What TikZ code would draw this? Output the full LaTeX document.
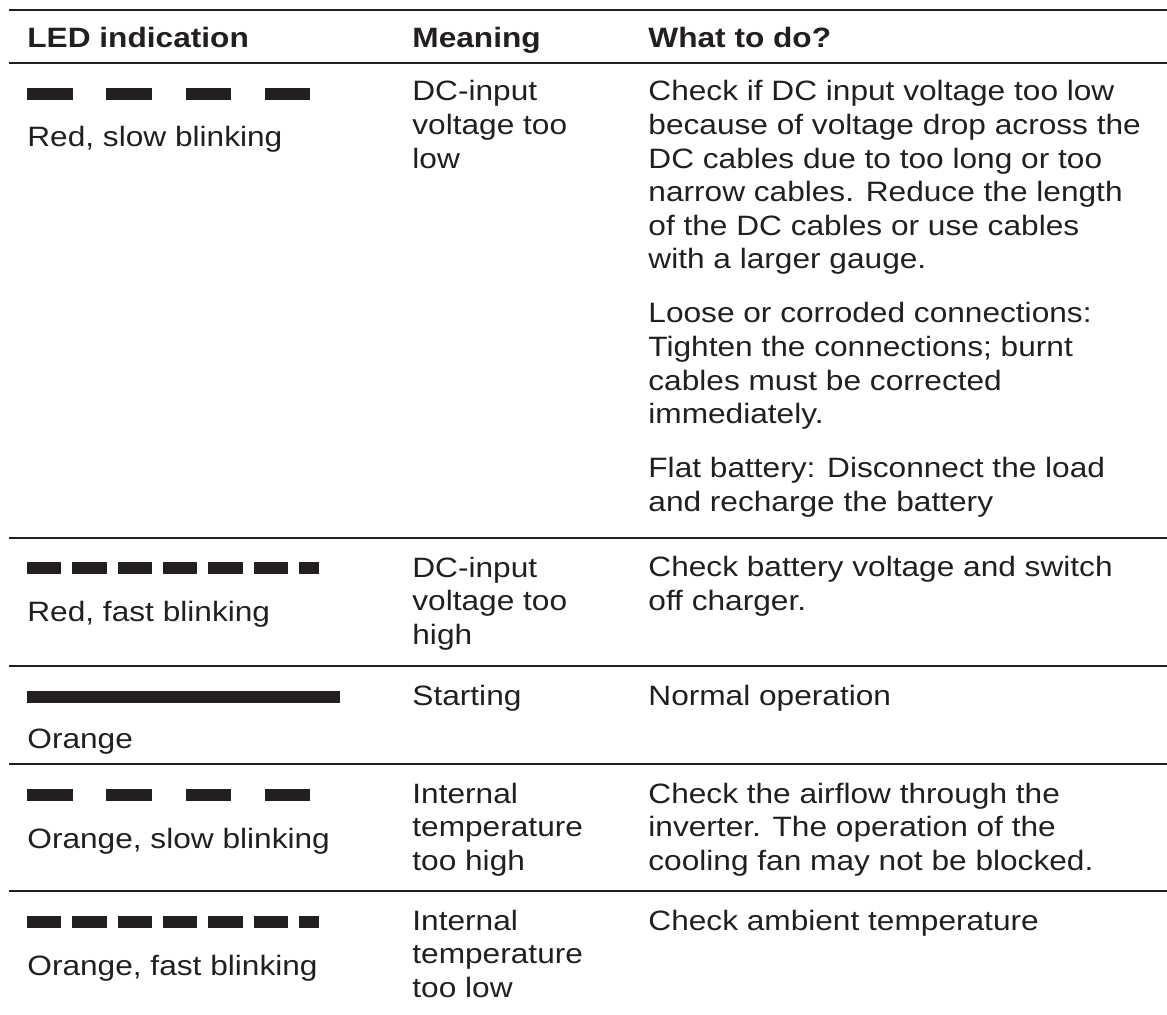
\documentclass[tikz,border=0pt]{standalone}
\usepackage{fontspec}
\setmainfont{Liberation Sans}[FakeStretch=1.13]
\definecolor{ink}{RGB}{35,31,32}

\begin{document}
\begin{tikzpicture}[
	x=0.5pt, y=-0.5pt,
	every node/.style={anchor=base west, inner sep=0pt, align=left, text=ink,
		font=\fontsize{14}{16.8}\selectfont},
	head/.style={font=\fontsize{14}{16.8}\selectfont\bfseries},
	rule/.style={draw=ink, line width=1.1pt},
	led/.style={draw=ink, line width=6pt},
	slowblink/.style={led, dash pattern=on 22.75pt off 16.9pt},
	fastblink/.style={led, dash pattern=on 17.15pt off 5.5pt},
]
	\useasboundingbox (0,0) rectangle (1167,1015);

	% rules
	\foreach \y in {10,63,538,666,764,891}
		\draw [rule] (9,\y) -- (1167,\y);

	% header
	\node [head] (hdled) at (27,48) {LED indication};
	\node [head] (hdmean) at (412,48) {Meaning};
	\node [head] (hdtodo) at (648,48) {What to do?};

	% red, slow (multi-line nodes are placed by their last line)
	\draw [slowblink] (27,94) -- (310,94);
	\node (led1) at (27,147) {Red, slow blinking};
	\node (mean1) at (412,168.2) {DC-input\\voltage too\\low};
	\node (todo1a) at (648,269) {Check if DC input voltage too low\\because of voltage drop across the\\DC cables due to too long or too\\narrow cables. Reduce the length\\of the DC cables or use cables\\with a larger gauge.};
	\node (todo1b) at (648,423.8) {Loose or corroded connections:\\Tighten the connections; burnt\\cables must be corrected\\immediately.};
	\node (todo1c) at (648,511.6) {Flat battery: Disconnect the load\\and recharge the battery};

	% red, fast
	\draw [fastblink] (27,568.5) -- (319,568.5);
	\node (led2) at (27,622) {Red, fast blinking};
	\node (mean2) at (412,644.2) {DC-input\\voltage too\\high};
	\node (todo2) at (648,610.6) {Check battery voltage and switch\\off charger.};

	% orange
	\draw [led] (27,697) -- (340,697);
	\node (led3) at (27,748) {Orange};
	\node (mean3) at (412,705) {Starting};
	\node (todo3) at (648,705) {Normal operation};

	% orange, slow
	\draw [slowblink] (27,795) -- (310,795);
	\node (led4) at (27,848) {Orange, slow blinking};
	\node (mean4) at (412,870.2) {Internal\\temperature\\too high};
	\node (todo4) at (648,870.2) {Check the airflow through the\\inverter. The operation of the\\cooling fan may not be blocked.};

	% orange, fast
	\draw [fastblink] (27,921.5) -- (319,921.5);
	\node (led5) at (27,975) {Orange, fast blinking};
	\node (mean5) at (412,997.2) {Internal\\temperature\\too low};
	\node (todo5) at (648,930) {Check ambient temperature};
\end{tikzpicture}
\end{document}
